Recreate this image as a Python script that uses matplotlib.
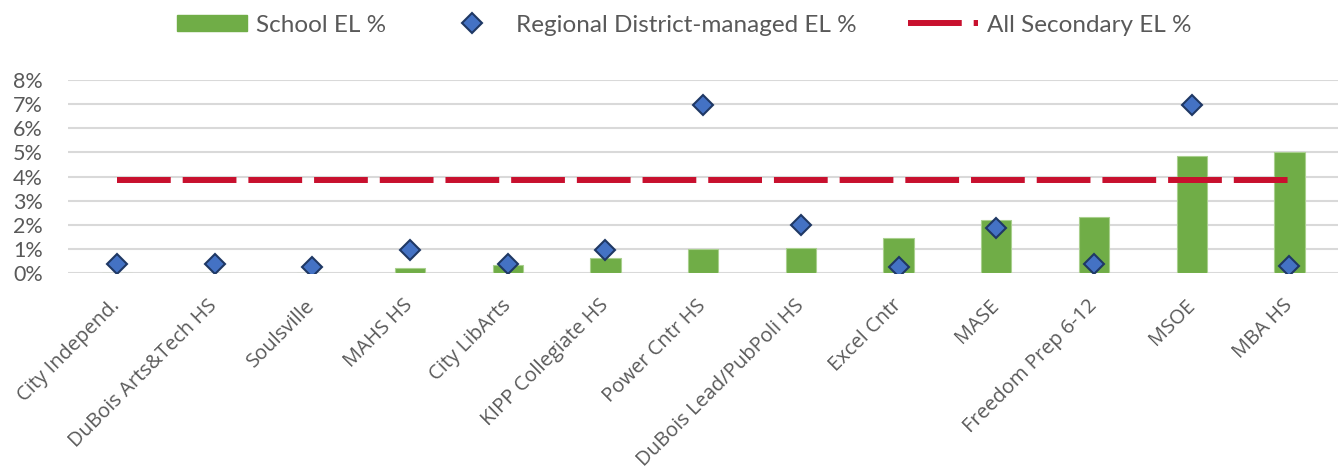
import matplotlib
matplotlib.use("Agg")
import matplotlib.pyplot as plt
from matplotlib.patches import Patch
from matplotlib.lines import Line2D
from matplotlib.ticker import PercentFormatter, MultipleLocator
import numpy as np

schools = ["City Independ.", "DuBois Arts&Tech HS", "Soulsville", "MAHS HS",
           "City LibArts", "KIPP Collegiate HS", "Power Cntr HS",
           "DuBois Lead/PubPoli HS", "Excel Cntr", "MASE", "Freedom Prep 6-12",
           "MSOE", "MBA HS"]
school_el = [0.0, 0.0, 0.0, 0.22, 0.34, 0.65, 0.99, 1.05, 1.45, 2.19, 2.31, 4.86, 5.03]
regional_el = [0.38, 0.38, 0.26, 0.96, 0.37, 0.96, 6.95, 2.00, 0.27, 1.88, 0.38, 6.95, 0.31]
all_secondary_el = 3.86

GREEN = "#70AD47"
BLUE = "#4472C4"
NAVY = "#1F3864"
RED = "#C8102E"
GRAY_TXT = "#595959"
GRID = "#D9D9D9"

fig = plt.figure(figsize=(13.4, 4.68), dpi=100)
ax = fig.add_axes([0.0507, 0.416, 0.948, 0.4137])

x = np.arange(len(schools))
ax.bar(x, school_el, width=0.31, color=GREEN, edgecolor="#A9D08E", linewidth=0.8, zorder=2)
ax.plot([x[0], x[-1]], [all_secondary_el, all_secondary_el], color=RED, lw=4.3,
        ls=(0, (9, 2)), solid_capstyle="butt", dash_capstyle="butt", zorder=3)
ax.plot(x, regional_el, ls="none", marker="D", ms=10.5, mfc=BLUE, mec=NAVY, mew=1.5, zorder=4)

ax.set_xlim(-0.5, len(schools) - 0.5)
ax.set_ylim(0, 8)
ax.yaxis.set_major_locator(MultipleLocator(1))
ax.yaxis.set_major_formatter(PercentFormatter(decimals=0))
ax.grid(axis="y", color=GRID, lw=1.5, zorder=0)
ax.set_axisbelow(True)
for s in ax.spines.values():
    s.set_visible(False)
ax.tick_params(axis="y", length=0, pad=18, labelsize=15.5, labelcolor=GRAY_TXT)
ax.tick_params(axis="x", length=0, pad=21)
for lab in ax.get_yticklabels():
    lab.set_family("Lato")

ax.set_xticks(x)
ax.set_xticklabels(schools, rotation=45, ha="right", va="center", rotation_mode="anchor",
                   fontsize=14.5, color=GRAY_TXT, family=["Open Sans", "DejaVu Sans"])

handles = [Patch(facecolor=GREEN, edgecolor=GREEN),
           Line2D([], [], ls="none", marker="D", ms=10.5, mfc=BLUE, mec=NAVY, mew=1.5),
           Line2D([], [], color=RED, lw=4.3, ls=(0, (9, 2)), dash_capstyle="butt")]
labels = ["School EL %", "Regional District-managed EL %", "All Secondary EL %"]
leg = fig.legend(handles, labels, loc="center", bbox_to_anchor=(0.5 + 14 / 1340, 1 - 25 / 468),
                 ncol=3, frameon=False, handlelength=2.9, handleheight=0.6, handletextpad=0.35,
                 columnspacing=2.1, prop={"family": "Lato", "size": 17.5})
for t in leg.get_texts():
    t.set_color(GRAY_TXT)

fig.savefig("out.png", dpi=100)
